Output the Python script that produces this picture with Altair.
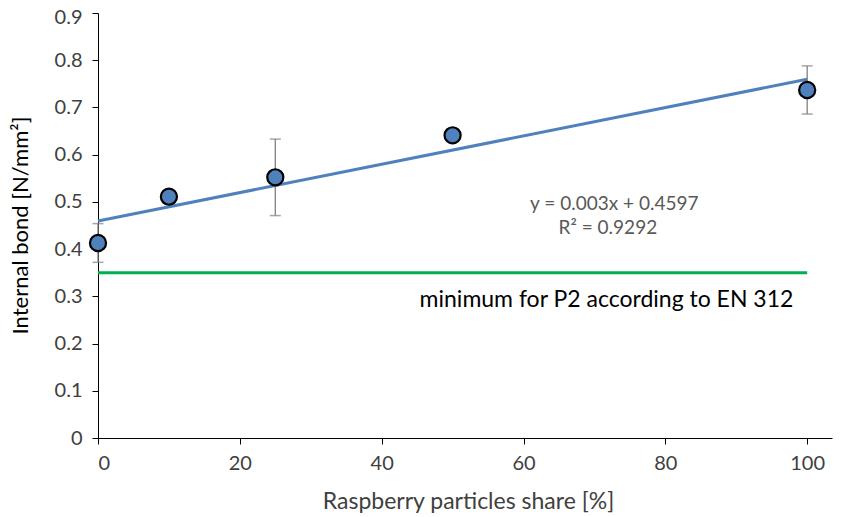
import altair as alt
import pandas as pd

# data
share = [0, 10, 25, 50, 100]
bond = [0.413, 0.511, 0.552, 0.641, 0.737]
err = [0.041, 0.013, 0.081, 0.012, 0.051]

trend_x = [0, 100]
trend_y = [0.4597, 0.7597]

min_x = [0, 100]
min_y = [0.35, 0.35]

eq_text = ["y = 0.003x + 0.4597", "R² = 0.9292"]
eq_x = [72.8, 71.9]
eq_y = [0.496, 0.445]

min_label = "minimum for P2 according to EN 312"
min_label_x = 71.7
min_label_y = 0.292

FONT = "Lato"
TXT = "#404040"

pts = pd.DataFrame({"x": share, "y": bond,
                    "lo": [b - e for b, e in zip(bond, err)],
                    "hi": [b + e for b, e in zip(bond, err)]})
trend = pd.DataFrame({"x": trend_x, "y": trend_y})
mins = pd.DataFrame({"x": min_x, "y": min_y})
eq = pd.DataFrame({"x": eq_x, "y": eq_y, "t": eq_text})
ml = pd.DataFrame({"x": [min_label_x], "y": [min_label_y], "t": [min_label]})

xs = alt.Scale(domain=[0, 103.5], nice=False, zero=False)
ys = alt.Scale(domain=[0, 0.9], nice=False)

xaxis = alt.Axis(values=[0, 20, 40, 60, 80, 100], grid=False, tickSize=6,
                 domainColor="#000000", tickColor="#000000", labelColor=TXT,
                 labelFont=FONT, labelFontSize=20, labelPadding=9,
                 title="Raspberry particles share [%]", titleFont=FONT,
                 titleFontSize=23, titleFontWeight="normal", titleColor=TXT,
                 titleX=370, titleY=70, titleBaseline="alphabetic")
yaxis = alt.Axis(values=[0, 0.1, 0.2, 0.3, 0.4, 0.5, 0.6, 0.7, 0.8, 0.9],
                 format="~g", grid=False, tickSize=6,
                 domainColor="#000000", tickColor="#000000", labelColor=TXT,
                 labelFont=FONT, labelFontSize=20, labelPadding=10,
                 labelOffset={"condition": {"test": "datum.value > 0.85", "value": 4},
                              "value": 0},
                 title="Internal bond [N/mm²]", titleFont=FONT,
                 titleFontSize=22, titleFontWeight="normal", titleColor="#000000",
                 titleX=-71, titleY=212, titleBaseline="alphabetic", titleAngle=-90,
                 titleAlign="center")

base_x = alt.X("x:Q", scale=xs, axis=xaxis)
base_y = alt.Y("y:Q", scale=ys, axis=yaxis)

bars = alt.Chart(pts).mark_rule(color="#808080", strokeWidth=1.3).encode(
    x=alt.X("x:Q", scale=xs), y=alt.Y("lo:Q", scale=ys), y2="hi:Q")
cap_lo = alt.Chart(pts).mark_tick(color="#808080", orient="horizontal",
                                  size=11, thickness=1.5).encode(
    x=alt.X("x:Q", scale=xs), y=alt.Y("lo:Q", scale=ys))
cap_hi = alt.Chart(pts).mark_tick(color="#808080", orient="horizontal",
                                  size=11, thickness=1.5).encode(
    x=alt.X("x:Q", scale=xs), y=alt.Y("hi:Q", scale=ys))

green = alt.Chart(mins).mark_line(color="#00b050", strokeWidth=3).encode(
    x=base_x, y=base_y)
tline = alt.Chart(trend).mark_line(color="#4f81bd", strokeWidth=3).encode(
    x=alt.X("x:Q", scale=xs), y=alt.Y("y:Q", scale=ys))
dots = alt.Chart(pts).mark_point(shape="circle", filled=True, size=260,
                                 fill="#4f81bd", stroke="#000000",
                                 strokeWidth=2.2, opacity=1).encode(
    x=alt.X("x:Q", scale=xs), y=alt.Y("y:Q", scale=ys))

eqt = alt.Chart(eq).mark_text(font=FONT, fontSize=19, color="#595959",
                              align="center", baseline="middle").encode(
    x=alt.X("x:Q", scale=xs), y=alt.Y("y:Q", scale=ys), text="t:N")
mlt = alt.Chart(ml).mark_text(font=FONT, fontSize=23, color="#000000",
                              align="center", baseline="middle").encode(
    x=alt.X("x:Q", scale=xs), y=alt.Y("y:Q", scale=ys), text="t:N")

chart = alt.layer(green, bars, cap_lo, cap_hi, tline, dots, eqt, mlt).properties(
    width=734, height=425,
    background="white",
    autosize=alt.AutoSizeParams(type="none"),
    padding={"left": 90, "top": 5, "right": 2, "bottom": 79},
).configure_view(strokeWidth=0, stroke=None)

chart.save("out.html", embed_options={"renderer": "svg", "actions": False})
